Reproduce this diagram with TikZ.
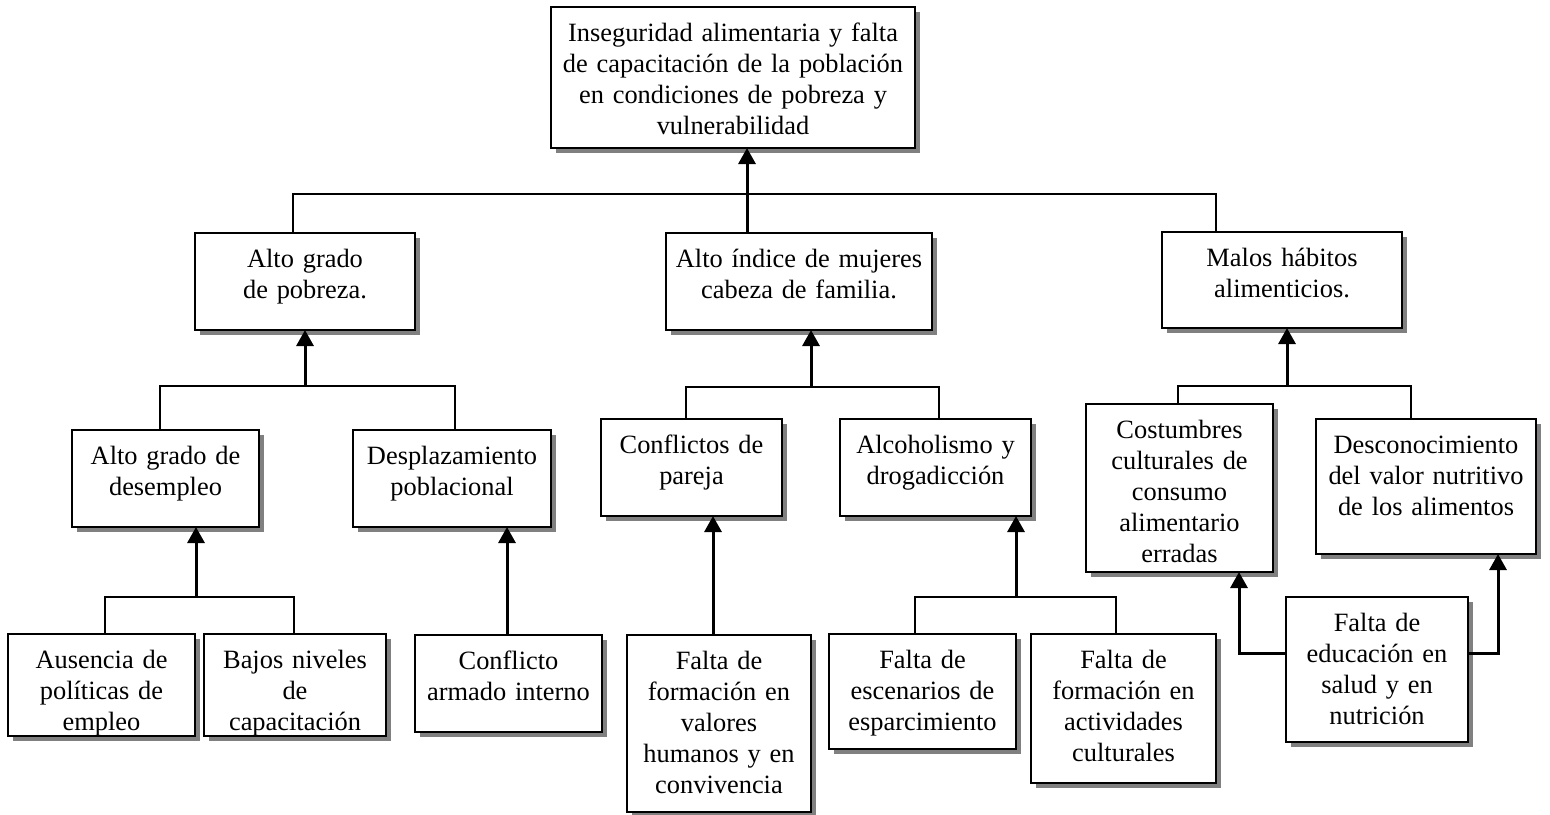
\documentclass[tikz,border=0pt]{standalone}
\usepackage{fontspec}
\setmainfont{Liberation Serif}
\usetikzlibrary{arrows.meta,shadows}

\tikzset{
  causebox/.style={draw, line width=1.15pt, fill=white, inner sep=0pt, outer sep=0pt,
    align=center, font=\fontsize{13.2}{15.5}\selectfont,
    drop shadow={shadow xshift=2.5pt, shadow yshift=-2.5pt, fill=black!50, opacity=1}},
  link/.style={line width=1.1pt},
  uparrow/.style={line width=1.5pt, -{Triangle[width=8.5pt,length=8pt]}}
}

% \causebox{name}{left}{top}{right}{bottom}{text}: box with text set from the top
\newcommand\causebox[6]{%
  \pgfmathsetmacro\cbw{(#4-#2)*0.5}%
  \pgfmathsetmacro\cbd{(#5-#3-34.5)*0.5}%
  \node[causebox, text width=\cbw pt, text height=17.25pt, text depth=\cbd pt,
        anchor=north west] (#1) at (#2,#3) {#6};}

\begin{document}
\begin{tikzpicture}[x=0.5pt,y=-0.5pt]
\useasboundingbox[fill=white] (0,0) rectangle (1550,814);

% problem
\causebox{root}{551}{7}{915}{148}{Inseguridad alimentaria y falta\\de capacitación de la población\\en condiciones de pobreza y\\vulnerabilidad}

% direct causes
\causebox{A}{195}{233}{415}{330}{Alto grado\\de pobreza.}
\causebox{B}{666}{233}{932}{330}{Alto índice de mujeres\\cabeza de familia.}
\causebox{C}{1162}{232}{1402}{328}{Malos hábitos\\alimenticios.}

% second level
\causebox{A1}{72}{430}{259}{527}{Alto grado de\\desempleo}
\causebox{A2}{353}{430}{551}{527}{Desplazamiento\\poblacional}
\causebox{B1}{601}{419}{782}{516}{Conflictos de\\pareja}
\causebox{B2}{840}{419}{1031}{516}{Alcoholismo y\\drogadicción}
\causebox{C1}{1086}{404}{1273}{572}{Costumbres\\culturales de\\consumo\\alimentario\\erradas}
\causebox{C2}{1316}{419}{1536}{554}{Desconocimiento\\del valor nutritivo\\de los alimentos}

% root causes
\causebox{A11}{8}{634}{195}{736}{Ausencia de\\políticas de\\empleo}
\causebox{A12}{204}{634}{386}{736}{Bajos niveles\\de\\capacitación}
\causebox{A21}{415}{635}{602}{732}{Conflicto\\armado interno}
\causebox{B11}{627}{635}{811}{812}{Falta de\\formación en\\valores\\humanos y en\\convivencia}
\causebox{B21}{829}{634}{1016}{749}{Falta de\\escenarios de\\esparcimiento}
\causebox{B22}{1031}{634}{1216}{783}{Falta de\\formación en\\actividades\\culturales}
\causebox{C31}{1286}{597}{1468}{742}{Falta de\\educación en\\salud y en\\nutrición}

% junctions of the branching lines
\coordinate (j0)  at (747,194);
\coordinate (jA)  at (305,386);
\coordinate (jB)  at (811,387);
\coordinate (jC)  at (1287,386);
\coordinate (jA1) at (196,597);
\coordinate (jB2) at (1016,597);

% top level
\draw[link] (A.north -| 293,0) |- (j0) -| (C.north -| 1216,0);
\draw[uparrow] (B.north -| j0) -- (root.south -| j0);

% pobreza
\draw[link] (A1.north -| 160,0) |- (jA) -| (A2.north -| 455,0);
\draw[uparrow] (jA) -- (A.south -| jA);
\draw[link] (A11.north -| 105,0) |- (jA1) -| (A12.north -| 294,0);
\draw[uparrow] (jA1) -- (A1.south -| jA1);
\draw[uparrow] (A21.north -| 507,0) -- (A2.south -| 507,0);

% mujeres cabeza de familia
\draw[link] (B1.north -| 686,0) |- (jB) -| (B2.north -| 939,0);
\draw[uparrow] (jB) -- (B.south -| jB);
\draw[uparrow] (B11.north -| 713,0) -- (B1.south -| 713,0);
\draw[link] (B21.north -| 915,0) |- (jB2) -| (B22.north -| 1116,0);
\draw[uparrow] (jB2) -- (B2.south -| jB2);

% hábitos alimenticios
\draw[link] (C1.north -| 1178,0) |- (jC) -| (C2.north -| 1411,0);
\draw[uparrow] (jC) -- (C.south -| jC);
\draw[uparrow] (C31.west |- 0,653) -| (C1.south -| 1239,0);
\draw[uparrow] (C31.east |- 0,653) -| (C2.south -| 1498,0);
\end{tikzpicture}
\end{document}
